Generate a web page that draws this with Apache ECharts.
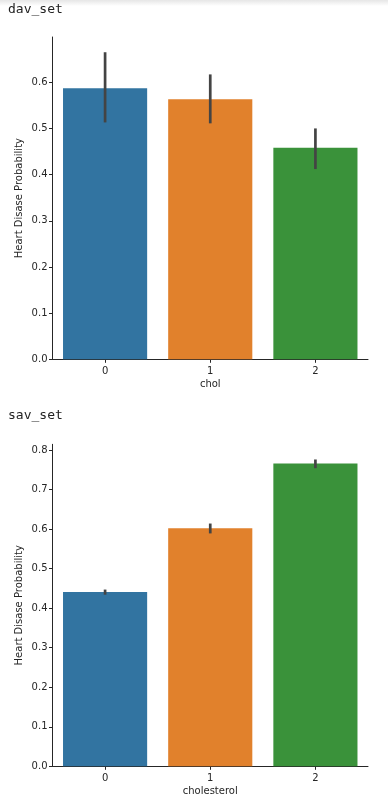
<!DOCTYPE html>
<html>
<head>
<meta charset="utf-8">
<script src="https://cdn.jsdelivr.net/npm/echarts@6/dist/echarts.min.js"></script>
<style>
html,body{margin:0;padding:0;background:#fff;}
#c{width:388px;height:810px;}
</style>
</head>
<body>
<div id="c"></div>
<script>
// ---- data ----
const categories = ['0', '1', '2'];
const davMeans = [0.587, 0.563, 0.458];
const davLow = [0.513, 0.511, 0.412];
const davHigh = [0.665, 0.617, 0.500];
const savMeans = [0.441, 0.602, 0.766];
const savLow = [0.434, 0.589, 0.754];
const savHigh = [0.447, 0.614, 0.776];
const davTicks = [0, 0.1, 0.2, 0.3, 0.4, 0.5, 0.6];
const savTicks = [0, 0.1, 0.2, 0.3, 0.4, 0.5, 0.6, 0.7, 0.8];
const barColors = ['#3274a1', '#e1812c', '#3a923a'];

const chart = echarts.init(document.getElementById('c'), null, {renderer: 'canvas'});

const axisColor = '#262626';
const font = 'DejaVu Sans';

function yAxis(gridIndex, max, ticks) {
  return {
    type: 'value', gridIndex, min: 0, max: max,
    name: 'Heart Disase Probability', nameLocation: 'middle', nameGap: 28, nameMoveOverlap: false,
    nameTextStyle: {fontFamily: font, fontSize: 10, color: axisColor},
    axisLine: {show: true, lineStyle: {color: axisColor, width: 1}},
    axisTick: {show: true, length: 3.5, customValues: ticks, lineStyle: {color: axisColor}},
    axisLabel: {customValues: ticks, formatter: v => v.toFixed(1), fontFamily: font, fontSize: 10, color: axisColor, margin: 5},
    splitLine: {show: false}
  };
}
function xAxis(gridIndex, name) {
  return {
    type: 'category', gridIndex, data: categories,
    name: name, nameLocation: 'middle', nameGap: 20,
    nameTextStyle: {fontFamily: font, fontSize: 10, color: axisColor},
    axisLine: {show: true, lineStyle: {color: axisColor, width: 1}},
    axisTick: {show: true, alignWithLabel: true, length: 3.5, lineStyle: {color: axisColor}},
    axisLabel: {fontFamily: font, fontSize: 10, color: axisColor, margin: 7},
    splitLine: {show: false}
  };
}
function bars(idx, means) {
  return {
    type: 'bar', xAxisIndex: idx, yAxisIndex: idx, barCategoryGap: '20%',
    data: means.map((v, i) => ({value: v, itemStyle: {color: barColors[i]}})),
    silent: true
  };
}
function errs(idx, lo, hi) {
  return {
    type: 'custom', xAxisIndex: idx, yAxisIndex: idx, silent: true, z: 5,
    data: lo.map((l, i) => [i, l, hi[i]]),
    renderItem: (params, api) => {
      const a = api.coord([api.value(0), api.value(1)]);
      const b = api.coord([api.value(0), api.value(2)]);
      return {type: 'line', shape: {x1: a[0], y1: a[1], x2: b[0], y2: b[1]},
        style: {stroke: '#444444', lineWidth: 2.7}};
    }
  };
}

chart.setOption({
  animation: false,
  backgroundColor: '#fff',
  graphic: [
    {type: 'rect', left: 0, top: 0, shape: {width: 388, height: 6}, silent: true,
     style: {fill: new echarts.graphic.LinearGradient(0, 0, 0, 1, [{offset: 0, color: '#e6e6e6'}, {offset: 1, color: '#ffffff'}])}},
    {type: 'text', left: 8, top: 3, style: {text: 'dav_set', font: '13px "DejaVu Sans Mono"', fill: '#222'}},
    {type: 'text', left: 8, top: 409, style: {text: 'sav_set', font: '13px "DejaVu Sans Mono"', fill: '#222'}}
  ],
  grid: [
    {left: 52.5, right: 20, top: 37, height: 322.3},
    {left: 52.5, right: 20, top: 444.3, height: 322}
  ],
  xAxis: [xAxis(0, 'chol'), xAxis(1, 'cholesterol')],
  yAxis: [yAxis(0, 0.698, davTicks), yAxis(1, 0.8144, savTicks)],
  series: [bars(0, davMeans), errs(0, davLow, davHigh), bars(1, savMeans), errs(1, savLow, savHigh)]
});
</script>
</body>
</html>
